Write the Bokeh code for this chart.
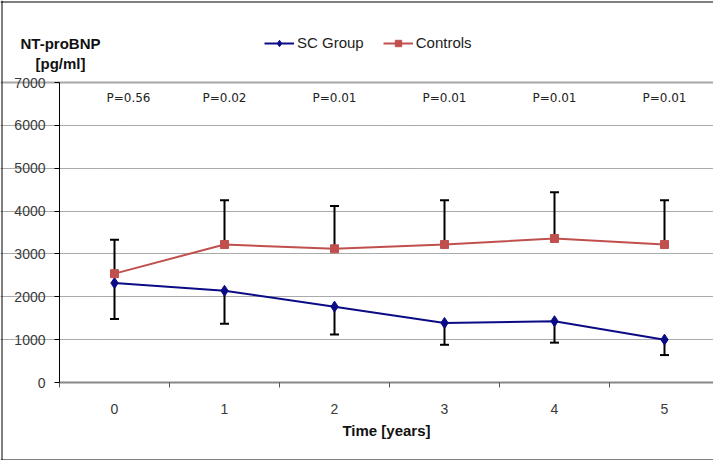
from bokeh.plotting import figure
from bokeh.models import (FixedTicker, Span, Whisker, TeeHead, ColumnDataSource,
                          Legend, LegendItem, Label, Grid)
from bokeh.core.properties import value
from bokeh.embed import file_html
from bokeh.resources import INLINE

# ---- data ----
years = [0, 1, 2, 3, 4, 5]
year_labels = ["0", "1", "2", "3", "4", "5"]
sc_mean = [2320, 2140, 1770, 1390, 1430, 1000]
sc_lower = [1480, 1370, 1120, 880, 930, 640]
ctrl_mean = [2540, 3220, 3120, 3220, 3360, 3220]
ctrl_upper = [3330, 4250, 4120, 4250, 4440, 4250]
p_values = ["P=0.56", "P=0.02", "P=0.01", "P=0.01", "P=0.01", "P=0.01"]
y_ticks = [0, 1000, 2000, 3000, 4000, 5000, 6000, 7000]
y_max = 7000

BLUE = "#0B0B86"
RED = "#C0504D"

# ---- layout geometry (pixels) ----
W, H = 713, 460
AX_X = 59          # y axis position from canvas left
AX_Y = 382         # x axis (value 0) position from canvas top
X_UNIT = 110       # px per category
PLOT_H = 300       # px from 0 to y_max
YPX = y_max / PLOT_H   # data units per px

x0 = -0.5 - AX_X / X_UNIT
x1 = -0.5 + (W - AX_X) / X_UNIT
y1 = AX_Y * YPX
y0 = -(H - AX_Y) * YPX

p = figure(width=W, height=H, x_range=(x0, x1), y_range=(y0, y1),
           output_backend="svg", toolbar_location=None,
           min_border_left=0, min_border_right=0, min_border_top=0, min_border_bottom=0,
           outline_line_color=None, background_fill_color="white",
           border_fill_color="white")

# ---- axes (drawn inside the frame at fixed locations) ----
p.yaxis.fixed_location = -0.5
p.yaxis.bounds = (0, y_max)
p.yaxis.ticker = FixedTicker(ticks=y_ticks)
p.yaxis.axis_line_color = "black"
p.yaxis.major_tick_line_color = "black"
p.yaxis.major_tick_out = 5
p.yaxis.major_tick_in = 0
p.yaxis.minor_tick_line_color = None
p.yaxis.major_label_standoff = 9
p.yaxis.major_label_text_font = "Liberation Sans"
p.yaxis.major_label_text_font_size = "14px"
p.yaxis.major_label_text_color = "#3a3a3a"

p.xaxis.fixed_location = 0
p.xaxis.bounds = (-0.5, 5.5)
p.xaxis.ticker = FixedTicker(ticks=years, minor_ticks=[-0.5, 0.5, 1.5, 2.5, 3.5, 4.5, 5.5])
p.xaxis.major_label_overrides = {y: s for y, s in zip(years, year_labels)}
p.xaxis.axis_line_color = "#888888"
p.xaxis.axis_line_width = 2
p.xaxis.major_tick_line_color = None
p.xaxis.major_tick_out = 0
p.xaxis.major_tick_in = 0
p.xaxis.minor_tick_line_color = "#555555"
p.xaxis.minor_tick_out = 5
p.xaxis.minor_tick_in = 0
p.xaxis.major_label_standoff = 16
p.xaxis.major_label_text_font = "Liberation Sans"
p.xaxis.major_label_text_font_size = "14px"
p.xaxis.major_label_text_color = "#3a3a3a"
p.xaxis.axis_label = "Time [years]"
p.xaxis.axis_label_text_font = "Liberation Sans"
p.xaxis.axis_label_text_font_style = "bold"
p.xaxis.axis_label_text_font_size = "15px"
p.xaxis.axis_label_text_color = "#111111"
p.xaxis.axis_label_standoff = 5

# ---- grids ----
p.xgrid.grid_line_color = None
p.ygrid.grid_line_color = None
p.add_layout(Grid(dimension=1, ticker=FixedTicker(ticks=y_ticks[1:-1]), bounds=(-0.5, 5.5),
                  grid_line_color="#555555", grid_line_dash="1 1", grid_line_width=1))
p.add_layout(Grid(dimension=1, ticker=FixedTicker(ticks=[y_max]), bounds=(-0.5, 5.5),
                  grid_line_color="#A8A8A8", grid_line_width=2))

# ---- chart-area border (left, top, bottom) ----
p.add_layout(Span(location=x0 + 1.5 / X_UNIT, dimension="height", line_color="black", line_width=1))
p.add_layout(Span(location=y1 - 1.5 * YPX, dimension="width", line_color="black", line_width=1))
p.add_layout(Span(location=y0 + 0.5 * YPX, dimension="width", line_color="black", line_width=1))

# ---- error bars ----
sc_src = ColumnDataSource(dict(x=years, m=sc_mean, lo=sc_lower))
ct_src = ColumnDataSource(dict(x=years, m=ctrl_mean, up=ctrl_upper))
p.add_layout(Whisker(source=sc_src, base="x", lower="lo", upper="m",
                     line_color="black", line_width=2,
                     lower_head=TeeHead(size=9, line_color="black", line_width=2),
                     upper_head=None))
p.add_layout(Whisker(source=ct_src, base="x", lower="m", upper="up",
                     line_color="black", line_width=2,
                     upper_head=TeeHead(size=9, line_color="black", line_width=2),
                     lower_head=None))

# ---- series ----
l1 = p.line(years, sc_mean, line_color=BLUE, line_width=2)
s1 = p.scatter(years, sc_mean, marker="diamond", size=11, fill_color=BLUE, line_color=BLUE)
l2 = p.line(years, ctrl_mean, line_color=RED, line_width=2)
s2 = p.scatter(years, ctrl_mean, marker="square", size=8, fill_color=RED, line_color=RED)

# ---- p-value labels ----
P_Y = 6627
p.text(x=years[:1], y=[P_Y], text=p_values[:1], x_offset=14, text_align="center",
       text_baseline="middle", text_font=value("DejaVu Sans"), text_font_size="12px",
       text_color="#222222")
p.text(x=years[1:], y=[P_Y] * 5, text=p_values[1:], text_align="center",
       text_baseline="middle", text_font=value("DejaVu Sans"), text_font_size="12px",
       text_color="#222222")

# ---- y-axis title (two lines, top-left) ----
for txt, yy in (("NT-proBNP", 7910), ("[pg/ml]", 7443)):
    p.add_layout(Label(x=-0.491, y=yy, text=txt, text_align="center", text_baseline="middle",
                       text_font="Liberation Sans", text_font_style="bold",
                       text_font_size="15px", text_color="#111111"))

# ---- legend ----
legend = Legend(items=[LegendItem(label="SC Group", renderers=[l1, s1]),
                       LegendItem(label="Controls", renderers=[l2, s2])],
                orientation="horizontal", location=(264, 409),
                glyph_width=30, glyph_height=16, label_height=16, label_standoff=3,
                spacing=19, padding=0, margin=0,
                border_line_color=None, background_fill_alpha=0,
                label_text_font="Liberation Sans", label_text_font_size="15px",
                label_text_color="#222222")
p.add_layout(legend, "center")

open("out.html", "w").write(file_html(p, INLINE))
